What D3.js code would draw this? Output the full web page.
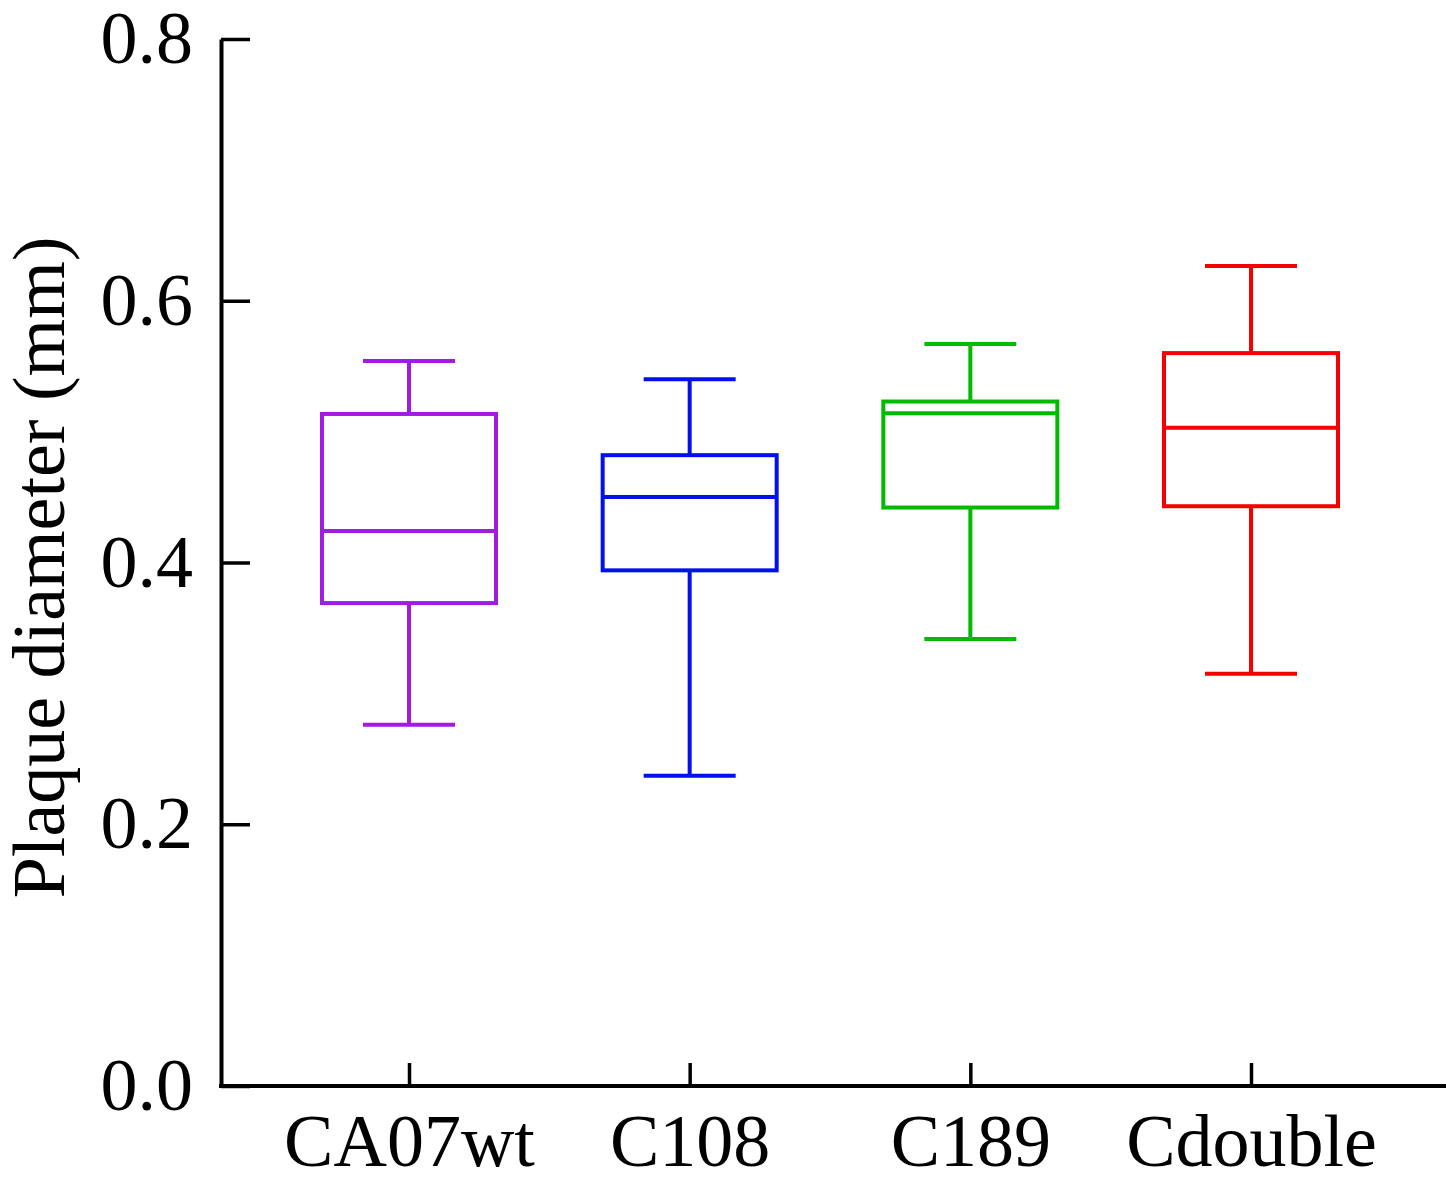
<!DOCTYPE html>
<html>
<head>
<meta charset="utf-8">
<script src="https://cdn.jsdelivr.net/npm/d3@7"></script>
<style>
  body { margin: 0; background: #fff; }
  text { font-family: "Liberation Serif", "Times New Roman", serif; }
</style>
</head>
<body>
<div id="chart"></div>
<script>
var groups = ["CA07wt", "C108", "C189", "Cdouble"];
var whiskerLow  = [0.276, 0.237, 0.3415, 0.315];
var q1          = [0.369, 0.394, 0.442, 0.443];
var median      = [0.424, 0.450, 0.514, 0.503];
var q3          = [0.5135, 0.482, 0.523, 0.560];
var whiskerHigh = [0.554, 0.540, 0.567, 0.6265];
var colors = ["#a31be0", "#0010ee", "#00bb00", "#f70000"];
var yTicks = [0, 0.2, 0.4, 0.6, 0.8];

var width = 1446, height = 1189;
var plotLeft = 221, plotRight = 1446, plotTop = 39, plotBottom = 1086;
var boxW = 174, capW = 92;

var svg = d3.select("#chart")
  .append("svg")
    .attr("width", width)
    .attr("height", height);

var x = d3.scalePoint()
  .domain(groups)
  .range([409, 1251]);

var y = d3.scaleLinear()
  .domain([0, 0.8])
  .range([plotBottom, plotTop]);

//Y AXIS
var yAxis = svg.append("g")
  .attr("transform", "translate(" + plotLeft + ",0)")
  .call(d3.axisLeft(y).tickValues(yTicks).tickFormat(d3.format(".1f"))
    .tickSizeInner(-29).tickSizeOuter(0).tickPadding(28));
yAxis.select(".domain").attr("stroke-width", 4);
yAxis.selectAll(".tick line").attr("stroke-width", 3.5);
yAxis.selectAll(".tick text")
  .attr("font-size", 74)
  .attr("fill", "#000");

//X AXIS
var xAxis = svg.append("g")
  .attr("transform", "translate(0," + y(0) + ")")
  .call(d3.axisBottom(x).tickSizeInner(-23).tickSizeOuter(0).tickPadding(27));
xAxis.select(".domain").remove();
xAxis.selectAll(".tick line").attr("stroke-width", 3.5);
xAxis.selectAll(".tick text")
  .attr("font-size", 74)
  .attr("fill", "#000");
svg.append("line")
  .attr("x1", plotLeft - 2).attr("x2", plotRight)
  .attr("y1", y(0)).attr("y2", y(0))
  .attr("stroke", "#000")
  .attr("stroke-width", 4);

// axis title
svg.append("text")
  .attr("transform", "translate(64," + ((plotTop + plotBottom) / 2 + 5) + ") rotate(-90)")
  .attr("text-anchor", "middle")
  .attr("font-size", 74)
  .text("Plaque diameter (mm)");

//BOXES
var data = groups.map(function(g, i) {
  return { key: g, lo: whiskerLow[i], q1: q1[i], med: median[i], q3: q3[i], hi: whiskerHigh[i], color: colors[i] };
});

var box = svg.selectAll("g.box")
  .data(data)
  .enter()
  .append("g")
    .attr("class", "box")
    .attr("stroke", function(d) { return d.color; })
    .attr("stroke-width", 4)
    .attr("fill", "none");

box.append("line")
  .attr("x1", function(d) { return x(d.key); })
  .attr("x2", function(d) { return x(d.key); })
  .attr("y1", function(d) { return y(d.q3); })
  .attr("y2", function(d) { return y(d.hi); });

box.append("line")
  .attr("x1", function(d) { return x(d.key); })
  .attr("x2", function(d) { return x(d.key); })
  .attr("y1", function(d) { return y(d.q1); })
  .attr("y2", function(d) { return y(d.lo); });

box.append("line")
  .attr("x1", function(d) { return x(d.key) - capW / 2; })
  .attr("x2", function(d) { return x(d.key) + capW / 2; })
  .attr("y1", function(d) { return y(d.hi); })
  .attr("y2", function(d) { return y(d.hi); });

box.append("line")
  .attr("x1", function(d) { return x(d.key) - capW / 2; })
  .attr("x2", function(d) { return x(d.key) + capW / 2; })
  .attr("y1", function(d) { return y(d.lo); })
  .attr("y2", function(d) { return y(d.lo); });

box.append("rect")
  .attr("x", function(d) { return x(d.key) - boxW / 2; })
  .attr("width", boxW)
  .attr("y", function(d) { return y(d.q3); })
  .attr("height", function(d) { return y(d.q1) - y(d.q3); });

box.append("line")
  .attr("x1", function(d) { return x(d.key) - boxW / 2; })
  .attr("x2", function(d) { return x(d.key) + boxW / 2; })
  .attr("y1", function(d) { return y(d.med); })
  .attr("y2", function(d) { return y(d.med); });
</script>
</body>
</html>
